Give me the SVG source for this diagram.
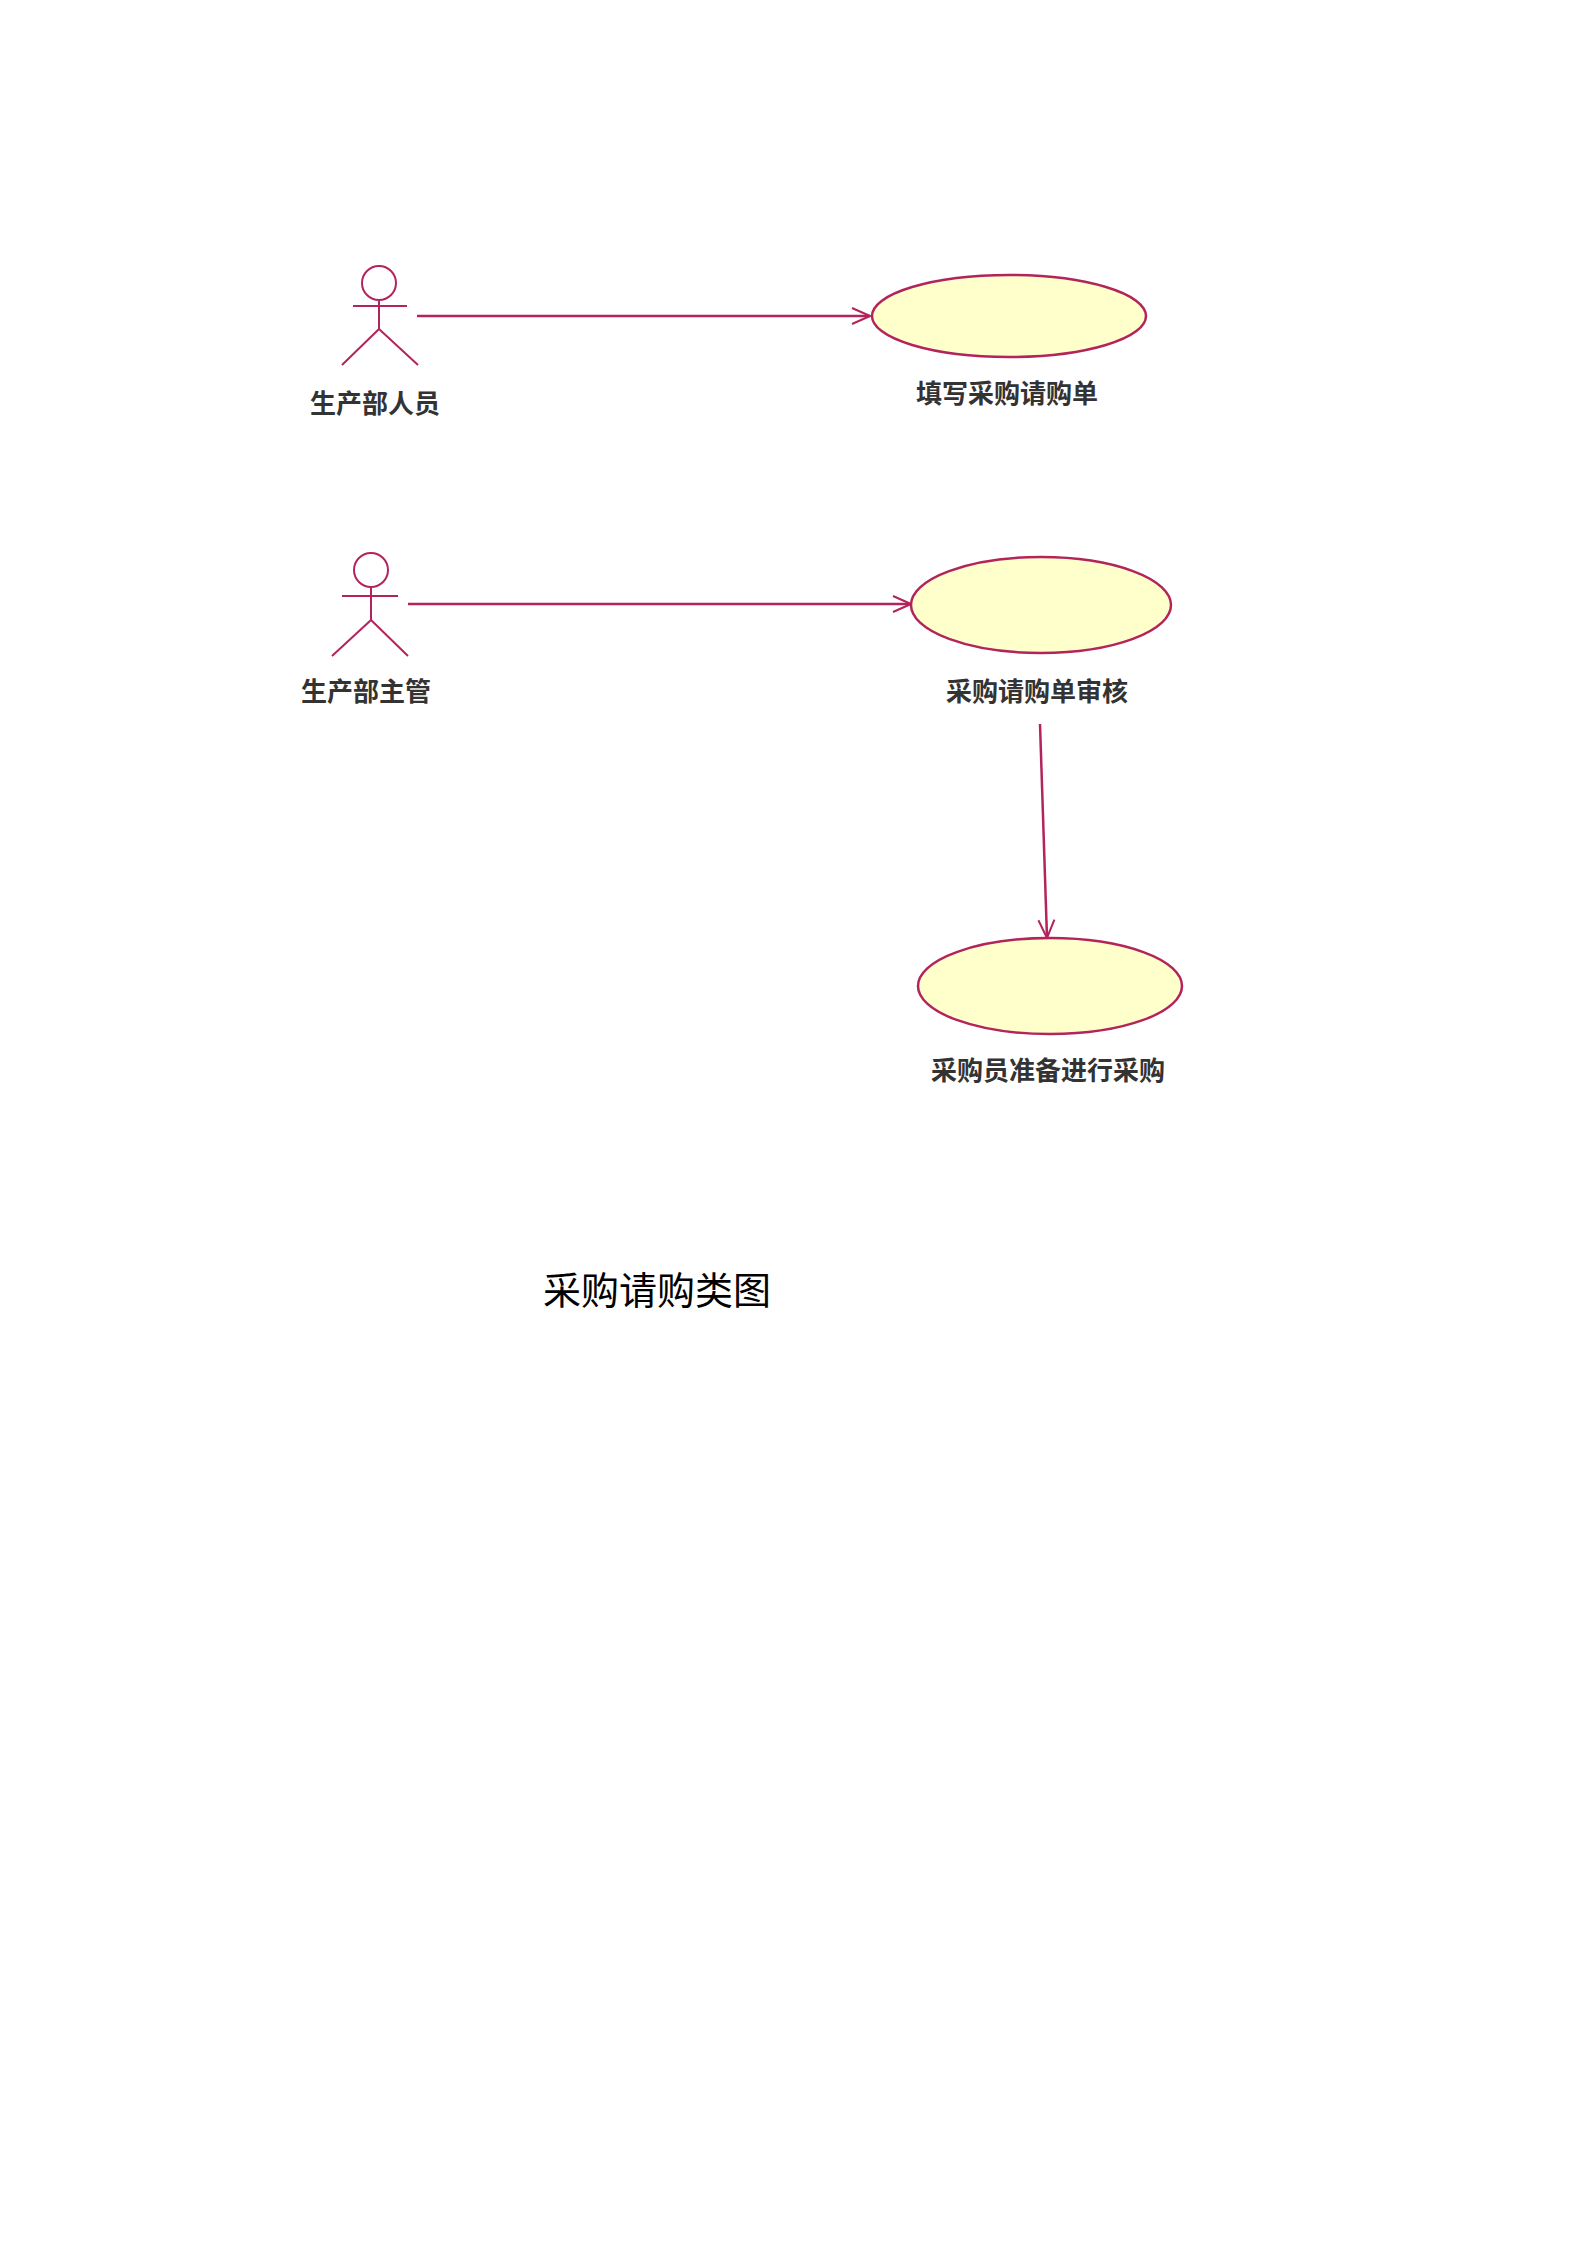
<svg xmlns="http://www.w3.org/2000/svg" width="1586" height="2244" viewBox="0 0 1586 2244">
<style>
.a{fill:none;stroke:#b3245c;stroke-width:2}
.u{fill:#ffffcc;stroke:#b3245c;stroke-width:2.5}
.c{fill:none;stroke:#b3245c;stroke-width:2.5}
.t{font-family:"Noto Sans CJK SC",sans-serif;font-size:26px;font-weight:bold;fill:#333;text-anchor:middle}
.h{font-family:"Liberation Serif","Noto Sans CJK SC",serif;font-size:38px;fill:#000;text-anchor:middle}
</style>
<defs><marker id="m" viewBox="0 0 20 20" refX="19" refY="10" markerWidth="20" markerHeight="20" markerUnits="userSpaceOnUse" orient="auto"><path d="M1 2L19 10L1 18" fill="none" stroke="#b3245c" stroke-width="2"/></marker></defs>
<rect width="1586" height="2244" fill="#fff"/>
<g id="actor1"><ellipse class="a" cx="379" cy="283" rx="17" ry="17"/><path class="a" d="M353 306H407M379 300V329L342 365M379 329L418 365"/><text class="t" x="375" y="413">生产部人员</text></g>
<g id="actor2"><ellipse class="a" cx="371" cy="570" rx="17" ry="17"/><path class="a" d="M342 596H398M371 587V620L332 656M371 620L408 656"/><text class="t" x="366" y="701">生产部主管</text></g>
<g id="uc1"><ellipse class="u" cx="1009" cy="316" rx="137" ry="41"/><text class="t" x="1007" y="403">填写采购请购单</text></g>
<g id="uc2"><ellipse class="u" cx="1041" cy="605" rx="130" ry="48"/><text class="t" x="1037" y="701">采购请购单审核</text></g>
<g id="uc3"><ellipse class="u" cx="1050" cy="986" rx="132" ry="48"/><text class="t" x="1048" y="1080">采购员准备进行采购</text></g>
<g id="connectors">
<path class="c" d="M417 316H870" marker-end="url(#m)"/>
<path class="c" d="M408 604H911" marker-end="url(#m)"/>
<path class="c" d="M1040 724L1047 938" marker-end="url(#m)"/>
</g>
<text class="h" x="657" y="1304">采购请购类图</text>
</svg>
